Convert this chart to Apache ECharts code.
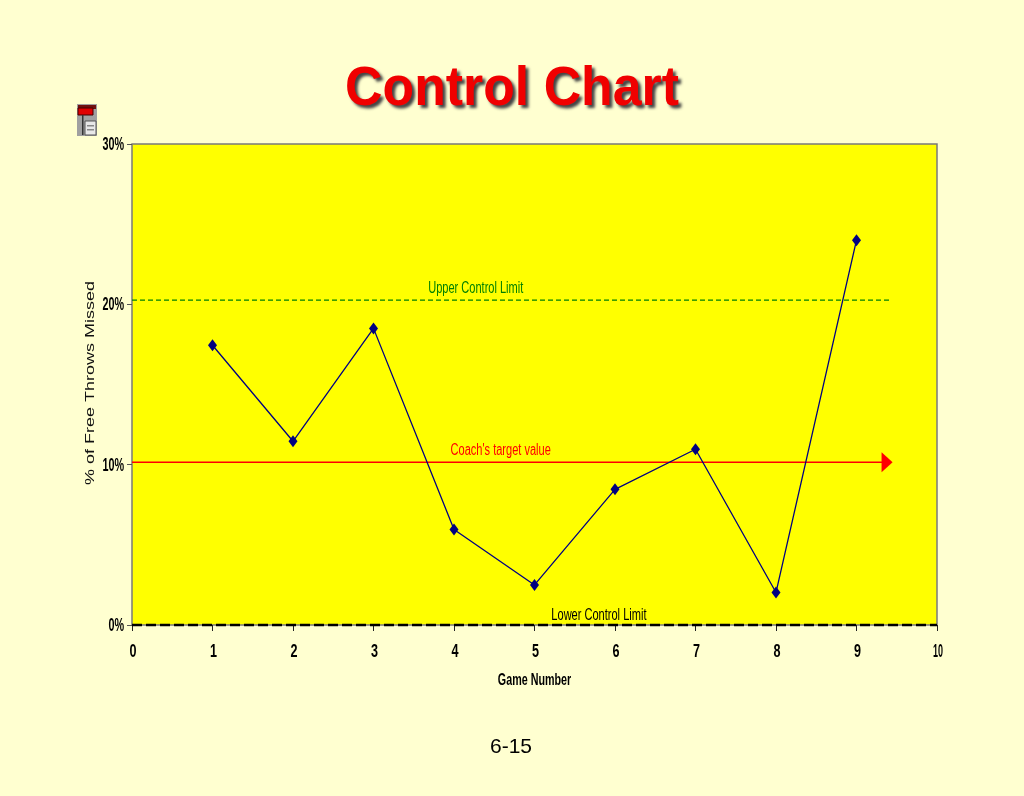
<!DOCTYPE html>
<html><head><meta charset="utf-8">
<style>html,body{margin:0;padding:0;background:#FFFFD0}#c{width:1024px;height:796px}</style>
<script src="https://cdn.jsdelivr.net/npm/echarts@6/dist/echarts.min.js"></script>
</head><body><div id="c"></div>
<script>
const games=[1,2,3,4,5,6,7,8,9];
const missedPct=[17.45,11.46,18.5,5.96,2.5,8.46,10.96,2.03,24.0];
const upperLimit=20.26, targetValue=10.15, lowerLimit=0;
const upperEndX=9.43, targetEndX=9.38;
const limitNames=["Upper Control Limit","Coach's target value","Lower Control Limit"];
const limitLabelX=[4.27,4.58,5.80];
const limitLabelY=[21.0,10.85,0.6];
const limitColors=["#008000","#FF0000","#000000"];
const xTickLabels=["0","1","2","3","4","5","6","7","8","9","10"];
const yTickValues=[0,10,20,30];
const yTickLabels=["0%","10%","20%","30%"];
const chart=echarts.init(document.getElementById('c'),null,{renderer:'canvas'});
const tickFont='bold 18px "Liberation Sans",Arial,sans-serif';
chart.setOption({
 backgroundColor:'#FFFFD0',animation:false,
 grid:{left:132,right:87,top:144,bottom:171,show:true,backgroundColor:'#FFFF00',borderColor:'#7a7a7a',borderWidth:1.5},
 xAxis:{type:'value',min:0,max:10,interval:1,splitLine:{show:false},
  axisLine:{show:false},axisTick:{show:true,length:6,lineStyle:{color:'#222'}},axisLabel:{show:false}},
 yAxis:{type:'value',min:0,max:30,interval:10,splitLine:{show:false},
  axisLine:{show:false},axisTick:{show:true,length:5,lineStyle:{color:'#555'}},axisLabel:{show:false}},
 series:[
  {name:'Missed',type:'line',data:games.map((g,i)=>[g,missedPct[i]]),symbol:'diamond',symbolSize:[9,12],
   lineStyle:{color:'#000080',width:1.3},itemStyle:{color:'#000080'},z:5},
  {name:'Upper',type:'line',data:[[0,upperLimit],[upperEndX,upperLimit]],symbol:'none',
   lineStyle:{color:'#008000',width:1.3,type:[5,3]},z:3},
  {name:'Target',type:'line',data:[[0,targetValue],[targetEndX,targetValue]],showSymbol:true,
   symbol:(v)=>v[0]===0?'none':'triangle',symbolSize:[20,11],symbolRotate:-90,
   lineStyle:{color:'#FF0000',width:1.6},itemStyle:{color:'#FF0000'},z:4},
  {name:'Lower',type:'line',data:[[0,lowerLimit],[10,lowerLimit]],symbol:'none',clip:false,
   lineStyle:{color:'#000000',width:2.6,type:[10,4]},z:6},
  {name:'Labels',type:'custom',silent:true,clip:false,z:7,coordinateSystem:'cartesian2d',
   data:limitLabelX.map((x,i)=>[x,limitLabelY[i]]),encode:{x:0,y:1},
   renderItem:(params,api)=>{const p=api.coord([api.value(0),api.value(1)]);
    return {type:'text',x:p[0],y:p[1],scaleX:0.69,style:{text:limitNames[params.dataIndex],align:'center',verticalAlign:'middle',
     font:'16px "Liberation Sans",Arial,sans-serif',fill:limitColors[params.dataIndex]}};}},
  {name:'XTicks',type:'custom',silent:true,clip:false,z:7,coordinateSystem:'cartesian2d',
   data:xTickLabels.map((t,i)=>[i,0]),encode:{x:0,y:1},
   renderItem:(params,api)=>{const p=api.coord([api.value(0),0]);const t=xTickLabels[params.dataIndex];
    return {type:'text',x:p[0]+1,y:p[1]+27,scaleX:t.length>1?0.5:0.7,style:{text:t,align:'center',verticalAlign:'middle',font:tickFont,fill:'#000'}};}},
  {name:'YTicks',type:'custom',silent:true,clip:false,z:7,coordinateSystem:'cartesian2d',
   data:yTickValues.map(v=>[0,v]),encode:{x:0,y:1},
   renderItem:(params,api)=>{const p=api.coord([0,api.value(1)]);
    return {type:'text',x:p[0]-8,y:p[1]+1,scaleX:0.6,style:{text:yTickLabels[params.dataIndex],align:'right',verticalAlign:'middle',font:tickFont,fill:'#000'}};}}
 ],
 graphic:[
  {type:'text',x:512,y:90,z:20,scaleX:0.925,style:{text:'Control Chart',align:'center',verticalAlign:'middle',
    font:'bold 56px "Liberation Sans",Arial,sans-serif',fill:'#F00000',textShadowColor:'#444',textShadowBlur:3,textShadowOffsetX:3,textShadowOffsetY:3}},
  {type:'text',x:511,y:747,style:{text:'6-15',align:'center',verticalAlign:'middle',font:'21px "Liberation Sans",Arial,sans-serif',fill:'#000'}},
  {type:'text',x:534.5,y:681,scaleX:0.67,style:{text:'Game Number',align:'center',verticalAlign:'middle',font:'bold 16px "Liberation Sans Narrow","Liberation Sans",sans-serif',fill:'#000'}},
  {type:'text',x:91,y:383,rotation:Math.PI/2,scaleX:1.44,style:{text:'% of Free Throws Missed',align:'center',verticalAlign:'middle',font:'12.5px "Liberation Sans",Arial,sans-serif',fill:'#111'}},
  {type:'rect',shape:{x:77,y:104,width:20,height:32},style:{fill:'#a0a0a0'}},
  {type:'rect',shape:{x:78,y:105,width:18,height:4},style:{fill:'#701010'}},
  {type:'rect',shape:{x:78,y:108,width:15,height:7},style:{fill:'#E00000',stroke:'#400',lineWidth:1}},
  {type:'rect',shape:{x:85,y:121,width:11,height:14},style:{fill:'#E8E8E8',stroke:'#555',lineWidth:1}},
  {type:'rect',shape:{x:82,y:115,width:1.5,height:20},style:{fill:'#333'}},
  {type:'rect',shape:{x:87,y:125,width:7,height:1.5},style:{fill:'#888'}},
  {type:'rect',shape:{x:87,y:129,width:7,height:1.5},style:{fill:'#888'}}
 ]
});
</script></body></html>
